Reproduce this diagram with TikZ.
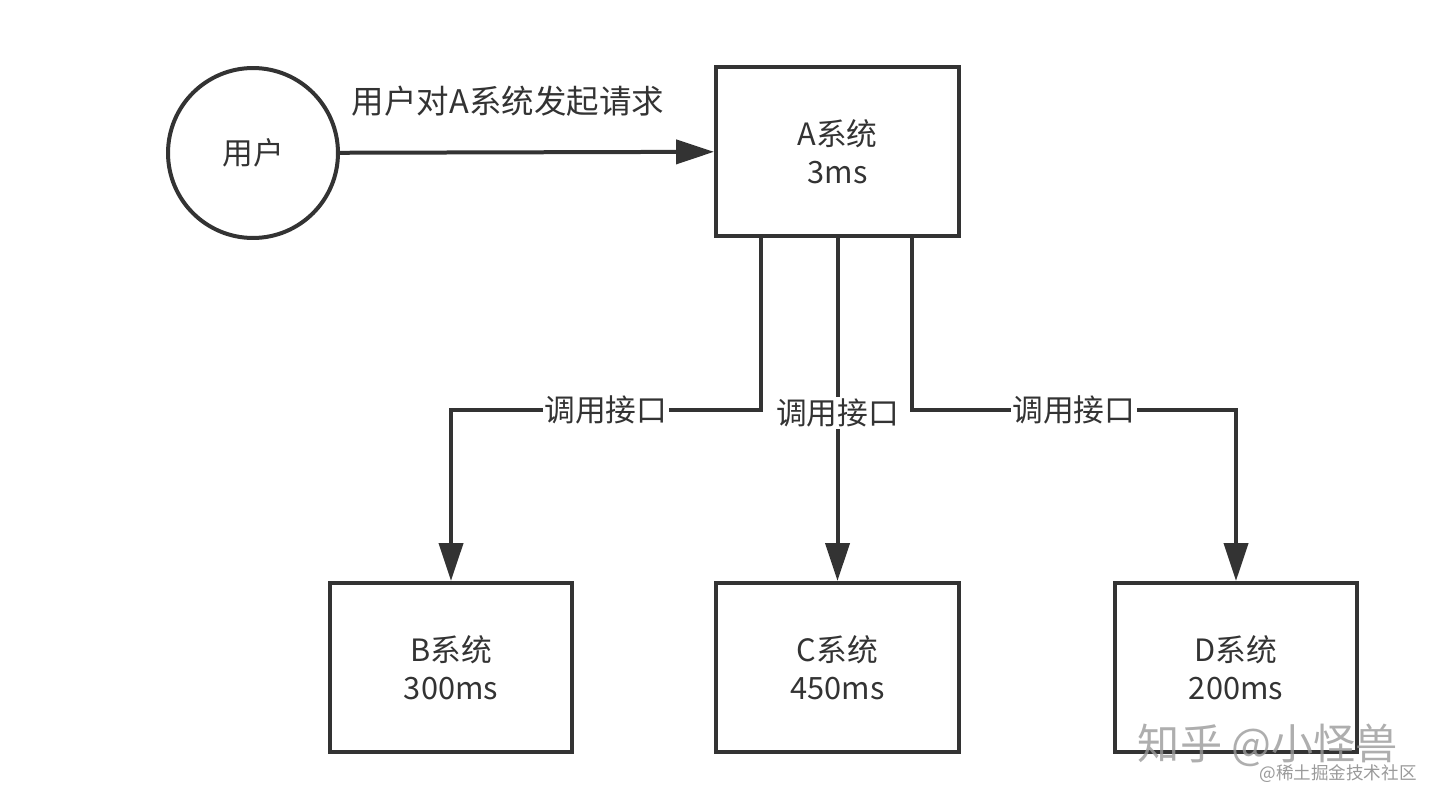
\documentclass[tikz,border=0pt]{standalone}
\usepackage{fontspec}
\setmainfont{Noto Sans CJK SC}
\usepackage{tikz}
\usetikzlibrary{calc}
\usetikzlibrary{arrows.meta, positioning}

\definecolor{inkgray}{HTML}{333333}
\definecolor{markgray}{HTML}{9A9A9A}

\begin{document}
\begin{tikzpicture}[x=0.02cm, y=-0.02cm, line cap=butt, line join=miter,
    sysbox/.style={draw=inkgray, line width=0.08cm, minimum width=4.86cm,
      minimum height=3.38cm, align=center, text=inkgray,
      font=\fontsize{17.5}{21.5}\selectfont},
    usercirc/.style={draw=inkgray, line width=0.08cm, circle, minimum size=3.4cm,
      text=inkgray, font=\fontsize{17.5}{21.5}\selectfont},
    callarrow/.style={draw=inkgray, line width=0.08cm,
      -{Triangle[length=0.76cm, width=0.48cm]}},
    calllabel/.style={fill=white, text=inkgray, inner sep=1pt,
      font=\fontsize{17.5}{21.5}\selectfont}]

  \useasboundingbox (0,0) rectangle (1440,807);

  %--------------------------
  % User and system A
  %--------------------------
  \node[usercirc] (user) at (253,153) {用户};
  \node[sysbox] (sysA) at (837.5,151.5) {A系统\\3ms};

  \draw[callarrow] (user) -- (sysA)
    node[midway, above=0.56cm, xshift=-0.38cm, text=inkgray,
      font=\fontsize{18.5}{21.5}\selectfont] (reqtxt) {用户对A系统发起请求};

  %--------------------------
  % Downstream systems
  %--------------------------
  \node[sysbox] (sysB) at (451,667.5) {B系统\\300ms};
  \node[sysbox] (sysC) at (837.5,667.5) {C系统\\450ms};
  \node[sysbox] (sysD) at (1236,667.5) {D系统\\200ms};

  % bend points of the calls
  \coordinate (outB) at ($(sysA.south west)!0.19!(sysA.south east)$);
  \coordinate (outD) at ($(sysA.south west)!0.80!(sysA.south east)$);
  \coordinate (bendB) at (451,410);
  \coordinate (bendD) at (1236,410);

  \draw[callarrow] (outB) |- node[calllabel, pos=0.75] (callB) {调用接口} (bendB) -- (sysB);
  \draw[callarrow] (sysA) -- node[calllabel, pos=0.51] (callC) {调用接口} (sysC);
  \draw[callarrow] (outD) |- node[calllabel, pos=0.75] (callD) {调用接口} (bendD) -- (sysD);

  %--------------------------
  % Watermarks
  %--------------------------
  \node[text=markgray, opacity=0.8, font=\fontsize{24}{28}\selectfont] (markA) at (1268,745) {知乎 @小怪兽};
  \node[text=markgray, font=\fontsize{10}{12}\selectfont] (markB) at (1338,774) {@稀土掘金技术社区};

\end{tikzpicture}
\end{document}
